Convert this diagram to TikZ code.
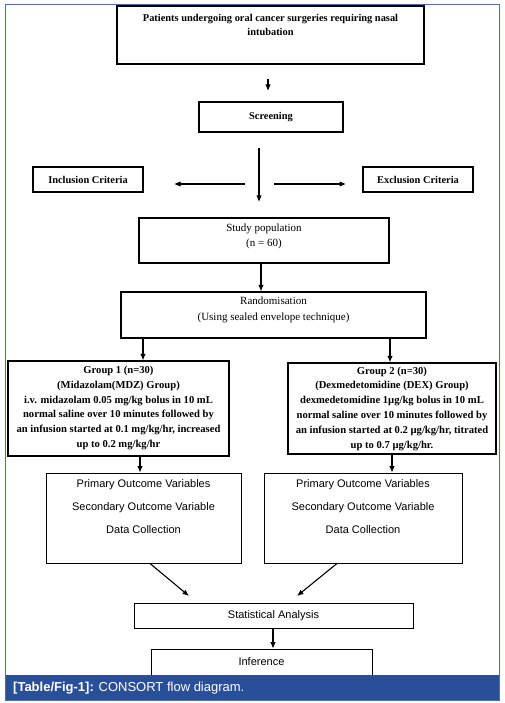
\documentclass[tikz,border=0pt]{standalone}
\usepackage{fontspec}
\setmainfont{Liberation Serif}
\setsansfont{Liberation Sans}
\usetikzlibrary{arrows.meta}
\definecolor{capblue}{RGB}{42,79,153}
\definecolor{framec}{RGB}{80,112,165}
\tikzset{
  bx/.style={draw, line width=1.1pt, inner sep=0pt, rectangle},
  txt/.style={inner sep=0pt, align=center, font=\fontsize{10.6}{14.8}\selectfont\bfseries},
  txtt/.style={inner sep=0pt, align=center, font=\fontsize{10.4}{14}\selectfont\bfseries},
  txtr/.style={inner sep=0pt, align=center, font=\fontsize{11}{15.5}\selectfont},
  stxt/.style={inner sep=0pt, align=center, font=\fontsize{11}{23}\sffamily\selectfont},
  arr/.style={line width=1.1pt, -{Latex[length=6.5pt,width=5.5pt]}},
}
\begin{document}
\begin{tikzpicture}[x=1pt,y=-1pt]
\useasboundingbox (0,0) rectangle (504,703);
\fill[white] (0,0) rectangle (504,703);
% boxes
\node[bx, minimum width=307pt, minimum height=58pt] (top) at (270.5,35) {};
\node[txtt] (toptext) at (270.5,25) {Patients undergoing oral cancer surgeries requiring nasal\\intubation};
\node[bx, minimum width=144pt, minimum height=30pt, txtt] (screen) at (271,117) {Screening};
\node[bx, minimum width=110pt, minimum height=25pt, txtt] (incl) at (88,179.5) {Inclusion Criteria};
\node[bx, minimum width=110pt, minimum height=25pt, txtt] (excl) at (418,179.5) {Exclusion Criteria};
\node[bx, minimum width=250pt, minimum height=45pt] (study) at (264,240.5) {};
\node[txtr] (studytext) at (264,236.5) {Study population\\(n = 60)};
\node[bx, minimum width=305pt, minimum height=46pt] (rand) at (273.5,315) {};
\node[txtr] (randtext) at (273.5,310) {Randomisation\\(Using sealed envelope technique)};
\node[bx, minimum width=221pt, minimum height=95pt] (g1) at (118.5,408.5) {};
\node[txt] (g1text) at (118.5,408) {Group 1 (n=30)\\(Midazolam(MDZ) Group)\\i.v. midazolam 0.05 mg/kg bolus in 10 mL\\normal saline over 10 minutes followed by\\an infusion started at 0.1 mg/kg/hr, increased\\up to 0.2 mg/kg/hr};
\node[bx, minimum width=208pt, minimum height=91pt] (g2) at (392,408.5) {};
\node[txt] (g2text) at (392,408.5) {Group 2 (n=30)\\(Dexmedetomidine (DEX) Group)\\dexmedetomidine 1µg/kg bolus in 10 mL\\normal saline over 10 minutes followed by\\an infusion started at 0.2 µg/kg/hr, titrated\\up to 0.7 µg/kg/hr.};
\node[bx, minimum width=195pt, minimum height=90pt, line width=0.9pt] (oL) at (143.5,518) {};
\node[stxt] (oLtext) at (143.5,507) {Primary Outcome Variables\\Secondary Outcome Variable\\Data Collection};
\node[bx, minimum width=198pt, minimum height=90pt, line width=0.9pt] (oR) at (363,518) {};
\node[stxt] (oRtext) at (363,507) {Primary Outcome Variables\\Secondary Outcome Variable\\Data Collection};
\node[bx, minimum width=279pt, minimum height=25pt, line width=0.9pt, stxt] (stat) at (273.5,615.5) {Statistical Analysis};
\node[bx, minimum width=221pt, minimum height=34pt, line width=0.9pt] (inf) at (261.5,666) {};
\node[stxt] (inftext) at (261.5,662) {Inference};
% free coordinates
\coordinate (a1s) at (268,79);
\coordinate (a1e) at (268,91);
\coordinate (a2s) at (259,148);
\coordinate (a2e) at (259,202);
\coordinate (lls) at (245,184);
\coordinate (lle) at (174,184);
\coordinate (rrs) at (274,184);
\coordinate (rre) at (346,184);
\coordinate (dLe) at (189,596);
\coordinate (dRe) at (297,596);
% arrows
\draw[arr] (a1s) -- (a1e);
\draw[arr] (a2s) -- (a2e);
\draw[arr] (lls) -- (lle);
\draw[arr] (rrs) -- (rre);
\draw[arr] (study.south -| 261,0) -- (rand.north -| 261,0);
\draw[arr] (rand.south -| 143,0) -- (g1.north -| 143,0);
\draw[arr] (rand.south -| 390,0) -- (g2.north -| 390,0);
\draw[arr] (g1.south -| 140,0) -- (oL.north -| 140,0);
\draw[arr] (g2.south -| 392,0) -- (oR.north -| 392,0);
\draw[arr] (oL.south -| 150,0) -- (dLe);
\draw[arr] (oR.south -| 337,0) -- (dRe);
\draw[arr] (stat.south -| 273,0) -- (inf.north -| 273,0);
% caption bar
\fill[capblue] (5,675) rectangle (499,700);
\node[anchor=west, inner sep=0pt, text=white, font=\fontsize{13}{14}\sffamily\selectfont] (cap) at (13,688) {\textbf{[Table/Fig-1]:} CONSORT flow diagram.};
% frame
\draw[framec, line width=1pt] (5,5) rectangle (499,700);
\end{tikzpicture}
\end{document}
